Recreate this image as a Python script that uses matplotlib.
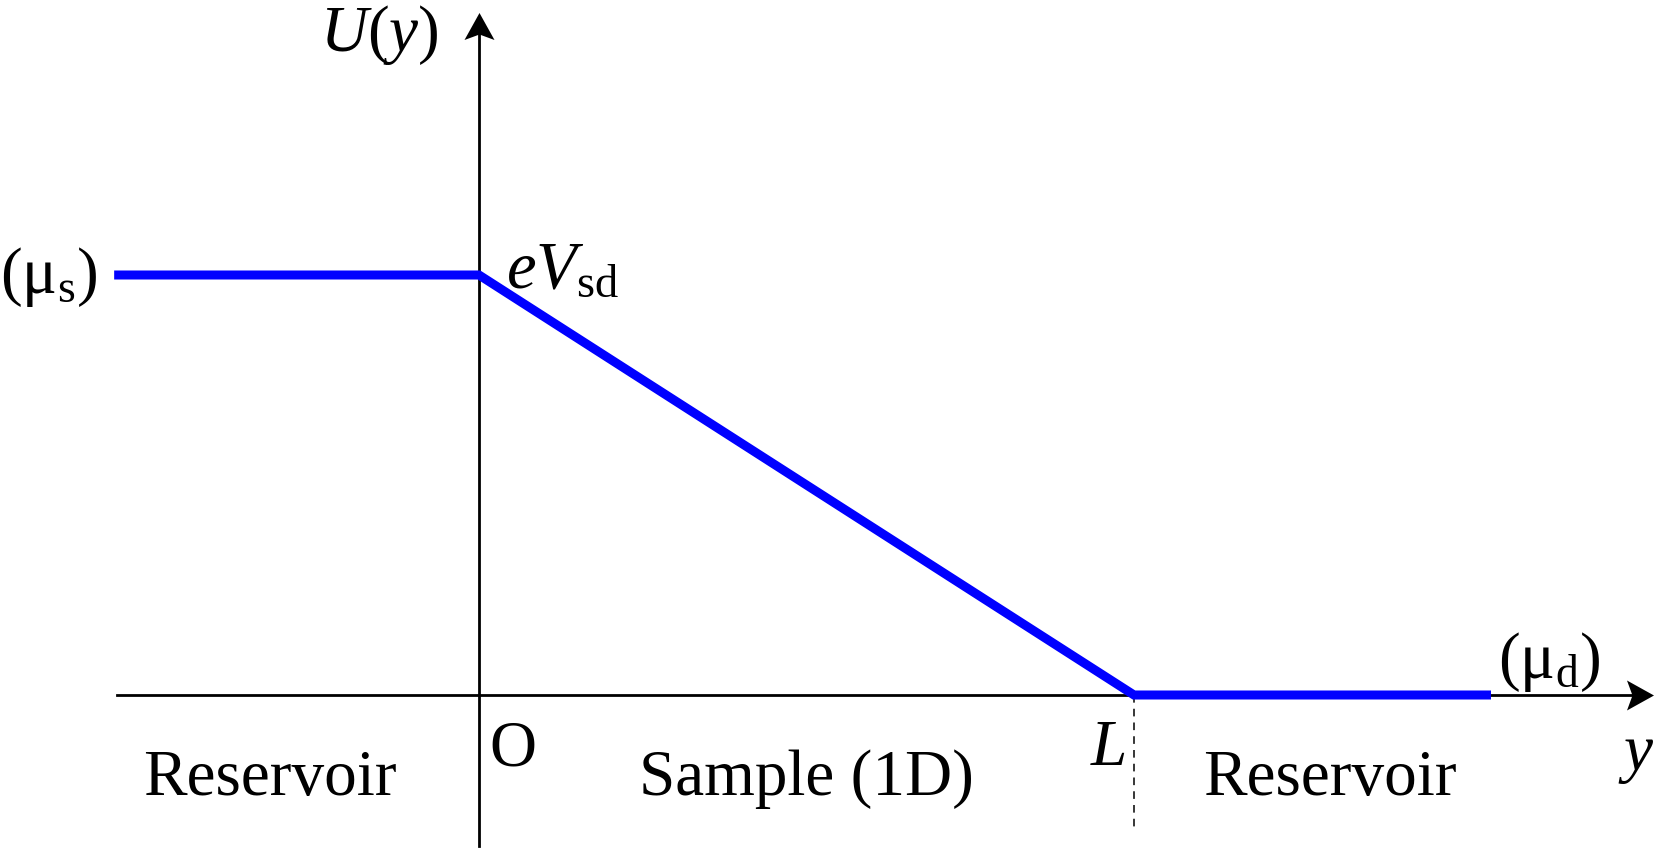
import matplotlib
matplotlib.use("Agg")
import matplotlib.pyplot as plt
from matplotlib.path import Path

# ---- data (position y in units of L, potential U in units of eV_sd) ----
y_pos = [-0.557, 0.0, 1.0, 1.545]
U_vals = [1.0, 1.0, 0.0, 0.0]
region_labels = ["Reservoir", "Sample (1D)", "Reservoir"]

plt.rcParams['mathtext.fontset'] = 'custom'
plt.rcParams['mathtext.rm'] = 'Liberation Serif'
plt.rcParams['mathtext.it'] = 'Liberation Serif:italic'
plt.rcParams['mathtext.bf'] = 'Liberation Serif:bold'
plt.rcParams['font.family'] = ['Liberation Serif', 'DejaVu Serif']

W, H = 1661, 848
fig = plt.figure(figsize=(W / 100, H / 100), dpi=100)
ax = fig.add_axes([0, 0, 1, 1])

# pixel layout -> data mapping
X0, XL = 479.0, 1134.0       # pixel x of y=0 and y=L
Y0, Y1 = 695.0, 275.0        # pixel y of U=0 and U=eV
sx = XL - X0
sy = Y0 - Y1


def px(x, y):
    return (x - X0) / sx, (Y0 - y) / sy


xl0, yl0 = px(0, H)
xl1, yl1 = px(W, 0)
ax.set_xlim(xl0, xl1)
ax.set_ylim(yl0, yl1)
ax.axis('off')

# stealth arrowhead markers (tip, back corners, notch)
HL, HW, NOTCH = 13.5, 15.0, 8.0
right_head = Path([(HL, 0), (-HL, HW), (-NOTCH, 0), (-HL, -HW), (HL, 0)],
                  [Path.MOVETO, Path.LINETO, Path.LINETO, Path.LINETO,
                   Path.CLOSEPOLY])
up_head = Path([(0, HL), (HW, -HL), (0, -NOTCH), (-HW, -HL), (0, HL)],
               [Path.MOVETO, Path.LINETO, Path.LINETO, Path.LINETO,
                Path.CLOSEPOLY])
ms = 2 * HW / 1.3889  # points

# horizontal axis
x_tip = 1654
ax.plot([px(117, Y0)[0], px(x_tip - 10, Y0)[0]], [0, 0], color='black', lw=2.0)
ax.plot([px(x_tip - HL, Y0)[0]], [0], marker=right_head, ms=ms, color='black',
        mec='none')
# vertical axis
y_tip = 12
ax.plot([0, 0], [px(X0, 846)[1], px(X0, y_tip + 10)[1]], color='black', lw=2.0)
ax.plot([0], [px(X0, y_tip + HL)[1]], marker=up_head, ms=ms, color='black',
        mec='none')

# dashed line at y = L
ax.plot([y_pos[2], y_pos[2]], [0, px(0, 828)[1]], color='black', lw=1.1,
        ls=(0, (5, 4)))

# potential profile
ax.plot(y_pos, U_vals, color='#0000ff', lw=6.5, solid_capstyle='butt',
        solid_joinstyle='miter', zorder=5)

fs = 47
ax.text(*px(320, 51), r'$U(y)$', fontsize=fs, ha='left', va='baseline')
ax.text(*px(0, 277), r'$(\mathrm{\mu}_{\mathrm{s}})$', fontsize=fs,
        ha='left', va='center')
ax.text(*px(506, 288), r'$eV_{\mathrm{sd}}$', fontsize=fs + 1, ha='left',
        va='baseline')
ax.text(*px(1498, 662), r'$(\mathrm{\mu}_{\mathrm{d}})$', fontsize=fs,
        ha='left', va='center')
ax.text(*px(1618, 770), r'$y$', fontsize=fs, ha='left', va='baseline')
ax.text(*px(489, 765), 'O', fontsize=fs, ha='left', va='baseline')
ax.text(*px(1090, 765), r'$L$', fontsize=fs, ha='left', va='baseline')

ax.text(*px(270, 795), region_labels[0], fontsize=fs, ha='center', va='baseline')
ax.text(*px(806, 795), region_labels[1], fontsize=fs, ha='center', va='baseline')
ax.text(*px(1330, 795), region_labels[2], fontsize=fs, ha='center', va='baseline')

fig.savefig('out.png', dpi=100)
